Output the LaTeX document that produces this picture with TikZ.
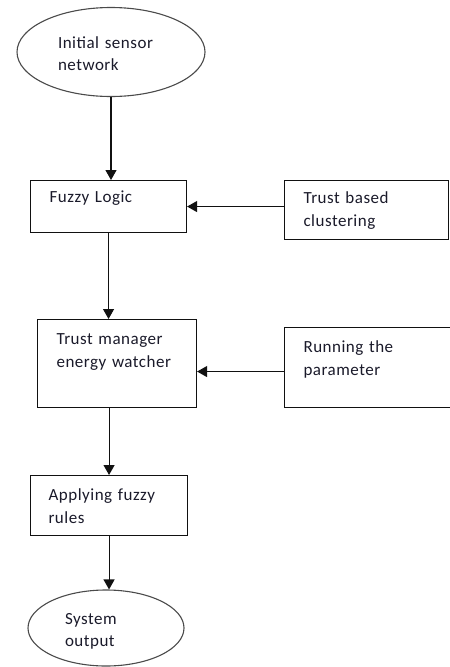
\documentclass[tikz,border=0pt]{standalone}
\usepackage{fontspec}
\setmainfont{Carlito}[LetterSpace=3]
\usetikzlibrary{arrows.meta,shapes.geometric}
\definecolor{chartText}{HTML}{1A1A2A}
\definecolor{chartLine}{HTML}{111111}
\definecolor{chartRim}{HTML}{4A4A4A}

\begin{document}
\begin{tikzpicture}[
  x=1pt, y=-1pt,
  >={Triangle[length=10pt,width=11pt]},
  stepbox/.style={
    draw=chartLine,
    text=chartText,
    rectangle,
    anchor=north west,
    align=left,
    inner xsep=19pt,
    inner ysep=0pt,
    line width=1.1pt,
    font=\fontsize{17}{22.5}\selectfont
  },
  terminal/.style={
    draw=chartRim,
    text=chartText,
    ellipse,
    align=left,
    inner sep=0pt,
    line width=1.1pt,
    text height=20pt,
    text depth=28pt,
    font=\fontsize{17}{22.5}\selectfont
  },
  flow/.style={->, draw=chartLine, line width=1.1pt}
]
\useasboundingbox (0,0) rectangle (450,667);

% Main column of the flow chart.
\node[terminal, minimum width=188pt, minimum height=89pt, text width=106pt]
  (start) at (111,52) {Initial sensor\\network};
\node[stepbox, text width=118pt, text height=22pt, text depth=30pt]
  (fuzzy) at (30,180) {Fuzzy Logic};
\node[stepbox, text width=121pt, text height=25pt, text depth=63pt]
  (manager) at (37,319) {Trust manager\\energy watcher};
\node[stepbox, inner xsep=18pt, text width=121pt, text height=25pt, text depth=35pt]
  (rules) at (30,475) {Applying fuzzy\\rules};
\node[terminal, minimum width=156pt, minimum height=76pt, text width=82pt]
  (output) at (106,628) {System\\output};

% Side inputs.
\node[stepbox, text width=126pt, text height=23pt, text depth=36pt]
  (trust) at (284,180) {Trust based\\clustering};
\node[stepbox, text width=132pt, text height=25pt, text depth=55pt]
  (running) at (284,327) {Running the\\parameter};

% Connectors.
\draw[flow] (start.south) -- (start.south |- fuzzy.north);
\draw[flow] (fuzzy.south) -- (fuzzy.south |- manager.north);
\draw[flow] (rules.north |- manager.south) -- (rules.north);
\draw[flow] (rules.south) -- (rules.south |- output.north);
\draw[flow] (fuzzy.east -| trust.west) -- (fuzzy.east);
\draw[flow] ([yshift=-4pt]running.west) -- ([yshift=-4pt]running.west -| manager.east);

\end{tikzpicture}
\end{document}
